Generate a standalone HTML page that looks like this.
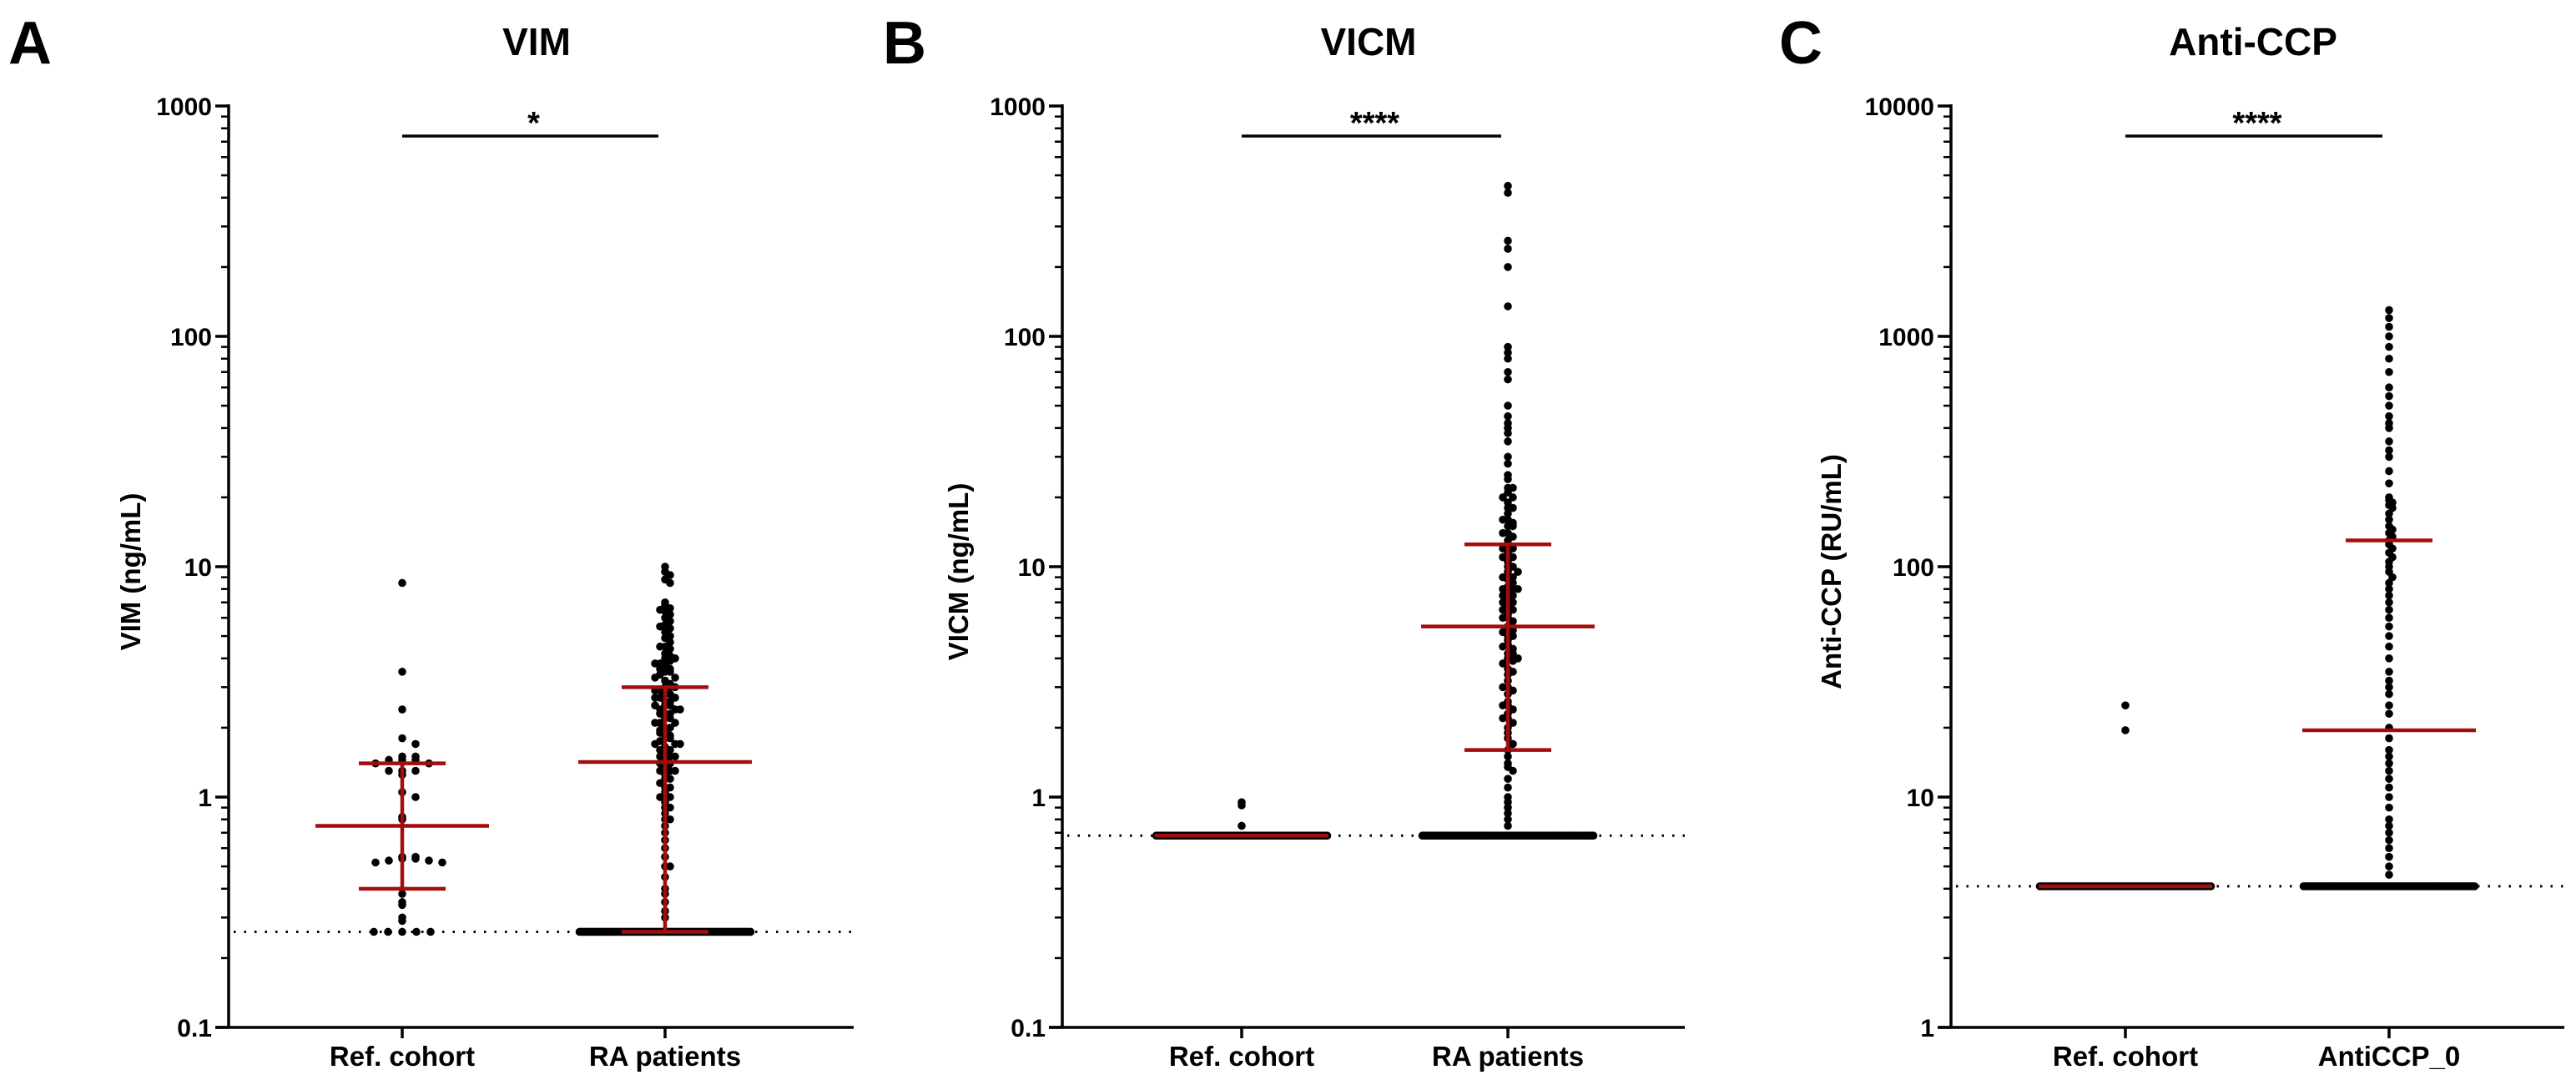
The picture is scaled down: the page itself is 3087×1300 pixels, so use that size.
<!DOCTYPE html>
<html><head><meta charset="utf-8"><style>
html,body{margin:0;padding:0;background:#fff;}
svg{display:block;font-family:"Liberation Sans",Arial,sans-serif;}
</style></head><body>
<svg id="fig" width="3087" height="1300" viewBox="0 0 3087 1300"></svg>
<script>
// ---------- data ----------
const categoriesA = ["Ref. cohort", "RA patients"];
const categoriesB = ["Ref. cohort", "RA patients"];
const categoriesC = ["Ref. cohort", "AntiCCP_0"];
const ticksA = ["0.1", "1", "10", "100", "1000"];
const ticksB = ["0.1", "1", "10", "100", "1000"];
const ticksC = ["1", "10", "100", "1000", "10000"];
const floorA = [0.26, 0.26];
const floorB = [0.68, 0.68];
const floorC = [4.1, 4.1];
const floorCountA = [5, 110];
const floorCountB = [90, 110];
const floorCountC = [90, 110];
const refA = [8.5, 3.5, 2.4, 1.8, 1.7, 1.5, 1.5, 1.45, 1.45, 1.45, 1.4, 1.4, 1.3, 1.3, 1.3, 1.25, 1.05, 1.0, 0.82, 0.8, 0.55, 0.55, 0.54, 0.54, 0.53, 0.53, 0.52, 0.52, 0.38, 0.35, 0.34, 0.3, 0.29];
const raA = [10, 9.5, 9.2, 8.8, 8.5, 7, 6.8, 6.6, 6.4, 6.2, 6, 5.8, 5.6, 5.4, 5.2, 5, 4.9, 4.7, 4.5, 4.4, 4.2, 4.1, 4, 3.9, 3.8, 3.7, 3.6, 3.5, 3.5, 3.4, 3.3, 3.2, 3.1, 3.0, 3.0, 2.9, 2.8, 2.8, 2.7, 2.7, 2.6, 2.6, 2.5, 2.5, 2.4, 2.4, 2.3, 2.3, 2.2, 2.2, 2.1, 2.1, 2.0, 2.0, 1.95, 1.9, 1.85, 1.8, 1.8, 1.75, 1.7, 1.7, 1.65, 1.6, 1.6, 1.55, 1.5, 1.5, 1.45, 1.4, 1.4, 1.35, 1.3, 1.3, 1.25, 1.2, 1.2, 1.15, 1.1, 1.1, 1.05, 1.0, 1.0, 0.95, 0.9, 0.9, 0.85, 0.8, 0.8, 0.75, 0.7, 0.65, 0.6, 0.55, 0.5, 0.5, 0.45, 0.4, 0.38, 0.35, 0.32, 0.3, 4.5, 4.0, 3.6, 3.3, 3.0, 2.7, 2.5, 2.3, 2.1, 1.9, 1.7, 1.5, 1.3, 5.5, 6.5, 3.8, 2.9, 2.4];
const refB = [0.95, 0.92, 0.75];
const raB = [450, 420, 260, 240, 200, 135, 90, 85, 80, 70, 65, 50, 45, 42, 40, 38, 35, 30, 28, 25, 24, 22, 21, 20, 19, 18, 17, 16, 15.5, 15, 14, 13.5, 13, 12.5, 12, 11.5, 11, 10.5, 10, 9.5, 9, 8.8, 8.5, 8.2, 8, 7.8, 7.5, 7.2, 7, 6.8, 6.5, 6.2, 6, 5.8, 5.5, 5.3, 5, 4.8, 4.6, 4.4, 4.2, 4, 3.9, 3.8, 3.6, 3.4, 3.2, 3, 2.9, 2.8, 2.6, 2.5, 2.4, 2.3, 2.2, 2.1, 2.0, 1.9, 1.8, 1.7, 1.6, 1.5, 1.4, 1.35, 1.3, 1.2, 1.1, 1.0, 0.95, 0.9, 0.85, 0.8, 0.75, 20, 18, 16, 14, 12, 10, 9, 8, 7, 6, 5, 4.5, 4, 3.5, 3, 2.5, 2.2, 8, 6.5, 5.2, 22, 15, 11, 9.5, 7.5, 4.2];
const refC = [25, 19.5];
const raC = [1300, 1200, 1100, 1000, 900, 800, 700, 600, 550, 500, 450, 420, 400, 350, 320, 300, 260, 230, 200, 195, 190, 185, 180, 170, 160, 150, 145, 140, 135, 130, 125, 120, 115, 110, 105, 100, 95, 90, 85, 80, 75, 70, 65, 60, 55, 50, 45, 40, 35, 32, 30, 28, 25, 23, 20, 18, 16, 15, 14, 13, 12, 11, 10, 9, 8, 7.5, 7, 6.5, 6, 5.5, 5, 4.6];
const medianA = [0.75, 1.42];
const lowerA = [0.4, 0.26];
const upperA = [1.4, 3.0];
const medianB = [0.68, 5.5];
const lowerB = [0.68, 1.6];
const upperB = [0.68, 12.5];
const medianC = [4.1, 19.5];
const lowerC = [null, null];
const upperC = [null, 130];

// ---------- drawing ----------
const NS = "http://www.w3.org/2000/svg";
const svg = document.getElementById("fig");
function mk(tag, attrs, parent) {
  const e = document.createElementNS(NS, tag);
  for (const k in attrs) e.setAttribute(k, attrs[k]);
  (parent || svg).appendChild(e);
  return e;
}
const TOP = 127, BOT = 1231;

function panel(cfg) {
  const g = mk("g", {});
  
  
  const lmin = Math.log10(cfg.min), lmax = Math.log10(cfg.max);
  const y = v => BOT - (Math.log10(v) - lmin) / (lmax - lmin) * (BOT - TOP);
  const xc = i => cfg.cx[i];

  const L = mk("text", {x: cfg.letterX, y: 76, "font-size": 72, "font-weight": "bold", fill: "#000"}, g);
  L.textContent = cfg.letter;
  
  
  const T = mk("text", {x: cfg.titleX, y: 66, "font-size": 46, "font-weight": "bold", "text-anchor": "middle"}, g);
  T.textContent = cfg.title;
  
  

  const yt = mk("text", {x: 0, y: 0, "font-size": 33, "font-weight": "bold", "text-anchor": "middle",
    transform: `translate(${cfg.ytX},685) rotate(-90)`}, g);
  yt.textContent = cfg.ytitle;
  
  

  const ya = mk("line", {x1: cfg.ax, y1: TOP - 2, x2: cfg.ax, y2: BOT + 1.5, stroke: "#000", "stroke-width": 3.5}, g);
  
  
  const xa = mk("line", {x1: cfg.ax - 16, y1: BOT, x2: cfg.right, y2: BOT, stroke: "#000", "stroke-width": 3.5}, g);
  
  

  cfg.ticks.forEach(t => {
    const v = parseFloat(t), ty = y(v);
    mk("line", {x1: cfg.ax - 16, y1: ty, x2: cfg.ax, y2: ty, stroke: "#000", "stroke-width": 3.5}, g);
    const tl = mk("text", {x: cfg.ax - 20, y: ty + 11, "font-size": 30, "font-weight": "bold", "text-anchor": "end"}, g);
    tl.textContent = t;
    
    
    if (v < cfg.max) {
      for (let m = 2; m <= 9; m++) {
        const my = y(v * m);
        mk("line", {x1: cfg.ax - 9, y1: my, x2: cfg.ax, y2: my, stroke: "#000", "stroke-width": 2.5}, g);
      }
    }
  });
  cfg.cats.forEach((c, i) => {
    mk("line", {x1: xc(i), y1: BOT, x2: xc(i), y2: BOT + 13, stroke: "#000", "stroke-width": 3.5}, g);
    const cl = mk("text", {x: xc(i), y: 1277, "font-size": 33, "font-weight": "bold", "text-anchor": "middle"}, g);
    cl.textContent = c;
    
    
  });

  const dl = mk("line", {x1: cfg.ax + 6, y1: y(cfg.floor[0]), x2: cfg.right, y2: y(cfg.floor[0]), stroke: "#000",
    "stroke-width": 3, "stroke-dasharray": "2.5,10"}, g);
  
  

  const sb = mk("line", {x1: xc(0), y1: 163, x2: xc(1) - 8, y2: 163, stroke: "#000", "stroke-width": 3.5}, g);
  
  
  const st = mk("text", {x: (xc(0) + xc(1)) / 2, y: 160, "font-size": 38, "font-weight": "bold", "text-anchor": "middle"}, g);
  st.textContent = cfg.sig;
  
  

  const R = 4.8;
  [cfg.g0, cfg.g1].forEach((vals, gi) => {
    const bins = {};
    const sp = cfg.spread[gi];
    vals.forEach(v => {
      const py = y(v), b = Math.round(py / 8);
      bins[b] = bins[b] || [];
      bins[b].push(py);
    });
    Object.keys(bins).forEach(b => {
      bins[b].forEach((py, k) => {
        const off = k === 0 ? 0 : Math.ceil(k / 2) * (k % 2 ? 1 : -1) * sp;
        const c = mk("circle", {cx: xc(gi) + off, cy: py, r: R, fill: "#000"}, g);
        
        
      });
    });
    const n = cfg.floorCount[gi], fy = y(cfg.floor[gi]);
    const w = n <= 8 ? (n - 1) * 17 : 205;
    for (let k = 0; k < n; k++) {
      const px = xc(gi) - w / 2 + (n > 1 ? k * w / (n - 1) : 0);
      const c = mk("circle", {cx: px, cy: fy, r: R, fill: "#000"}, g);
      
      
    }
  });

  const red = "#a40d0d";
  for (let i = 0; i < 2; i++) {
    if (cfg.lower[i] != null && cfg.upper[i] != null && cfg.upper[i] !== cfg.lower[i]) {
      const v = mk("line", {x1: xc(i), y1: y(cfg.upper[i]), x2: xc(i), y2: y(cfg.lower[i]), stroke: red, "stroke-width": 4.5}, g);
      
      
    }
    const m = mk("line", {x1: xc(i) - 104, y1: y(cfg.median[i]), x2: xc(i) + 104, y2: y(cfg.median[i]), stroke: red, "stroke-width": 4.5}, g);
    
    
    [cfg.lower[i], cfg.upper[i]].forEach(q => {
      if (q == null || q === cfg.median[i]) return;
      const ql = mk("line", {x1: xc(i) - 52, y1: y(q), x2: xc(i) + 52, y2: y(q), stroke: red, "stroke-width": 4.5}, g);
      
      
    });
  }
}

panel({id: "vim", letter: "A", letterX: 10, title: "VIM", titleX: 643, ytitle: "VIM (ng/mL)", ytX: 168,
  ax: 274, right: 1023, cx: [482, 797], min: 0.1, max: 1000, ticks: ticksA, cats: categoriesA,
  floor: floorA, floorCount: floorCountA, g0: refA, g1: raA, median: medianA, lower: lowerA, upper: upperA,
  sig: "*", spread: [16, 6]});
panel({id: "vicm", letter: "B", letterX: 1058, title: "VICM", titleX: 1640, ytitle: "VICM (ng/mL)", ytX: 1160,
  ax: 1273, right: 2019, cx: [1488, 1807], min: 0.1, max: 1000, ticks: ticksB, cats: categoriesB,
  floor: floorB, floorCount: floorCountB, g0: refB, g1: raB, median: medianB, lower: lowerB, upper: upperB,
  sig: "****", spread: [6, 6]});
panel({id: "anticcp", letter: "C", letterX: 2132, title: "Anti-CCP", titleX: 2700, ytitle: "Anti-CCP (RU/mL)", ytX: 2206,
  ax: 2338, right: 3073, cx: [2547, 2863], min: 1, max: 10000, ticks: ticksC, cats: categoriesC,
  floor: floorC, floorCount: floorCountC, g0: refC, g1: raC, median: medianC, lower: lowerC, upper: upperC,
  sig: "****", spread: [4, 4]});
</script>
</body></html>
